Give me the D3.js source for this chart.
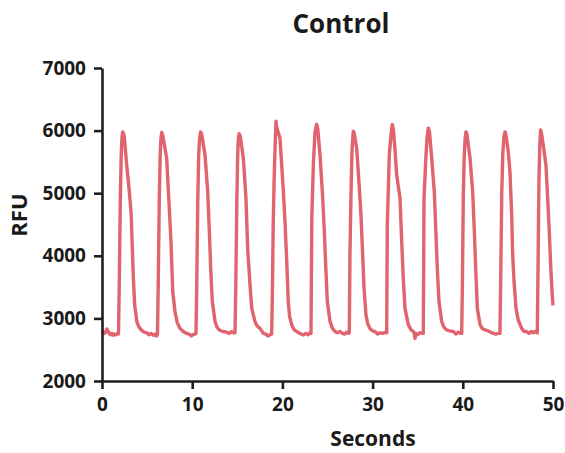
<!DOCTYPE html>
<html>
<head>
<meta charset="utf-8">
<script src="https://cdn.jsdelivr.net/npm/d3@7"></script>
<style>
  html, body { margin: 0; padding: 0; background: #fff; }
  svg { display: block; }
  text { font-family: "Open Sans", "Noto Sans", sans-serif; font-weight: 700; fill: #1a1a1a; }
</style>
</head>
<body>
<div id="chart"></div>
<script>
// ===== Config =====
const WIDTH = 565, HEIGHT = 453;
const LINE_COLOR = "#e0636e";

// Axis ticks
const xTicks = [0, 10, 20, 30, 40, 50];
const yTicks = [2000, 3000, 4000, 5000, 6000, 7000];
const xDomain = [0, 50];
const yDomain = [2000, 7000];

// Labels
const TITLE = "Control";
const X_LABEL = "Seconds";
const Y_LABEL = "RFU";

// Trace: [seconds, RFU]
const trace = [
  [0.00,2770],[0.12,2790],[0.25,2760],[0.40,2780],[0.55,2830],[0.65,2800],[0.80,2760],[0.95,2740],
  [1.10,2760],[1.25,2730],[1.40,2750],[1.55,2740],[1.70,2760],
  // beat 1
  [1.83,2750],[1.91,3500],[2.03,4900],[2.13,5600],[2.21,5880],[2.29,5980],[2.38,5960],[2.47,5900],
  [2.74,5450],[3.03,5030],[3.24,4650],[3.36,4120],[3.48,3640],[3.62,3220],[3.86,2950],[4.10,2860],
  [4.40,2810],[4.68,2780],[4.96,2770],[5.20,2740],[5.45,2760],[5.69,2730],[5.90,2750],[6.05,2720],
  // beat 2
  [6.15,2740],[6.23,3500],[6.35,4900],[6.45,5600],[6.53,5870],[6.62,5970],[6.71,5940],[6.80,5870],
  [7.17,5560],[7.46,4760],[7.65,4220],[7.84,3430],[8.09,3110],[8.35,2930],[8.65,2840],[9.00,2790],
  [9.39,2760],[9.65,2750],[9.90,2720],[10.10,2740],[10.30,2750],
  // beat 3
  [10.42,2760],[10.50,3500],[10.62,4900],[10.72,5600],[10.82,5880],[10.94,5980],[11.03,5950],[11.12,5880],
  [11.42,5610],[11.72,5030],[11.90,4390],[12.05,3800],[12.23,3270],[12.53,2950],[12.75,2860],[13.00,2815],
  [13.40,2790],[13.82,2780],[14.10,2760],[14.35,2790],[14.56,2770],
  // beat 4
  [14.75,2770],[14.83,3500],[14.95,4900],[15.04,5600],[15.11,5850],[15.19,5950],[15.28,5930],[15.37,5870],
  [15.67,5560],[15.96,4920],[16.15,4120],[16.41,3530],[16.60,3160],[16.96,2950],[17.20,2880],[17.52,2840],
  [17.88,2760],[18.15,2750],[18.40,2720],[18.63,2740],
  // beat 5
  [18.81,2750],[18.89,3400],[18.98,4490],[19.08,5200],[19.18,5700],[19.29,6150],[19.36,6060],[19.48,6000],
  [19.73,5880],[20.10,5050],[20.29,4540],[20.48,3910],[20.65,3270],[20.80,3030],[21.03,2900],[21.30,2820],
  [21.59,2790],[21.95,2760],[22.32,2735],[22.60,2760],[22.85,2740],[23.06,2770],
  // beat 6
  [23.17,2760],[23.26,4600],[23.44,5500],[23.62,5980],[23.80,6100],[23.92,6030],
  [24.17,5610],[24.47,4920],[24.65,4380],[24.80,3850],[24.98,3270],[25.28,2950],[25.55,2840],[25.83,2790],
  [26.10,2770],[26.39,2790],[26.65,2760],[26.90,2750],[27.15,2780],[27.35,2760],
  // beat 7
  [27.42,2780],[27.49,4010],[27.61,5020],[27.72,5700],[27.86,5990],[27.96,5960],
  [28.24,5710],[28.53,5080],[28.71,4650],[28.90,4010],[29.05,3480],[29.27,3050],[29.45,2920],[29.71,2840],
  [30.00,2800],[30.27,2790],[30.55,2750],[30.82,2770],[31.10,2760],[31.38,2780],
  // beat 8
  [31.56,2770],[31.63,4490],[31.85,5610],[32.04,5930],[32.18,6100],[32.30,6020],
  [32.48,5710],[32.67,5290],[33.04,4920],[33.23,4220],[33.40,3640],[33.59,3160],[33.96,2900],[34.25,2820],
  [34.51,2790],[34.62,2760],[34.70,2680],[34.80,2760],[35.00,2740],[35.25,2770],
  // beat 9
  [35.62,2760],[35.70,4920],[35.92,5610],[36.05,5900],[36.18,6040],[36.30,5990],
  [36.55,5560],[36.84,5020],[37.03,4330],[37.17,3800],[37.36,3270],[37.66,2950],[37.90,2860],[38.21,2815],
  [38.55,2800],[38.95,2790],[39.25,2750],[39.50,2780],[39.72,2760],
  // beat 10
  [39.88,2760],[39.96,3600],[40.06,5000],[40.16,5600],[40.26,5880],[40.35,5980],[40.45,5950],
  [40.80,5560],[41.10,5020],[41.28,4380],[41.43,3800],[41.61,3160],[41.91,2900],[42.15,2840],[42.46,2815],
  [42.80,2800],[43.10,2780],[43.38,2760],[43.65,2750],[43.94,2760],
  // beat 11
  [44.12,2760],[44.20,3600],[44.32,5000],[44.44,5650],[44.56,5900],[44.68,5980],[44.78,5940],
  [45.04,5660],[45.23,5340],[45.42,4650],[45.53,4010],[45.68,3590],[45.90,3160],[46.15,2970],[46.53,2840],
  [46.80,2790],[47.08,2790],[47.35,2760],[47.60,2790],[47.82,2770],[48.05,2790],
  // beat 12
  [48.26,2770],[48.34,3800],[48.44,5200],[48.54,5800],[48.63,6010],[48.73,5950],
  [48.92,5770],[49.22,5450],[49.41,4920],[49.59,4380],[49.74,3850],[49.89,3430],[50.00,3210]
];

// ===== Build =====
const svg = d3.select("#chart").append("svg")
  .attr("width", WIDTH).attr("height", HEIGHT);

const x = d3.scaleLinear().domain(xDomain).range([102, 553]);
const y = d3.scaleLinear().domain(yDomain).range([381, 68]);

// trace
const line = d3.line().x(d => x(d[0])).y(d => y(d[1]));
svg.append("path")
  .datum(trace)
  .attr("fill", "none")
  .attr("stroke", LINE_COLOR)
  .attr("stroke-width", 3.4)
  .attr("stroke-linejoin", "round")
  .attr("d", line);

// axes
const fmt = d3.format("d");
const xAxisG = svg.append("g")
  .attr("transform", `translate(0,${y(2000)})`)
  .call(d3.axisBottom(x).tickValues(xTicks).tickFormat(fmt).tickSize(8).tickSizeOuter(0).tickPadding(9));
const yAxisG = svg.append("g")
  .attr("transform", `translate(${x(0)},0)`)
  .call(d3.axisLeft(y).tickValues(yTicks).tickFormat(fmt).tickSize(8).tickSizeOuter(0).tickPadding(8));

[xAxisG, yAxisG].forEach(g => {
  g.select(".domain").attr("stroke", "#1f1f1f").attr("stroke-width", 2.6);
  g.selectAll(".tick line").attr("stroke", "#1f1f1f").attr("stroke-width", 2.6);
  g.selectAll(".tick text")
    .attr("fill", "#1a1a1a")
    .style("font-family", "'Open Sans', sans-serif")
    .style("font-weight", 700)
    .style("font-size", "19px");
});

// labels
svg.append("text")
  .attr("x", 341).attr("y", 33)
  .attr("text-anchor", "middle")
  .style("font-size", "26px")
  .text(TITLE);

svg.append("text")
  .attr("x", 373).attr("y", 446)
  .attr("text-anchor", "middle")
  .style("font-size", "21px")
  .text(X_LABEL);

svg.append("text")
  .attr("transform", `translate(27, ${y(4650)}) rotate(-90)`)
  .attr("text-anchor", "middle")
  .style("font-size", "22px")
  .text(Y_LABEL);
</script>
</body>
</html>
